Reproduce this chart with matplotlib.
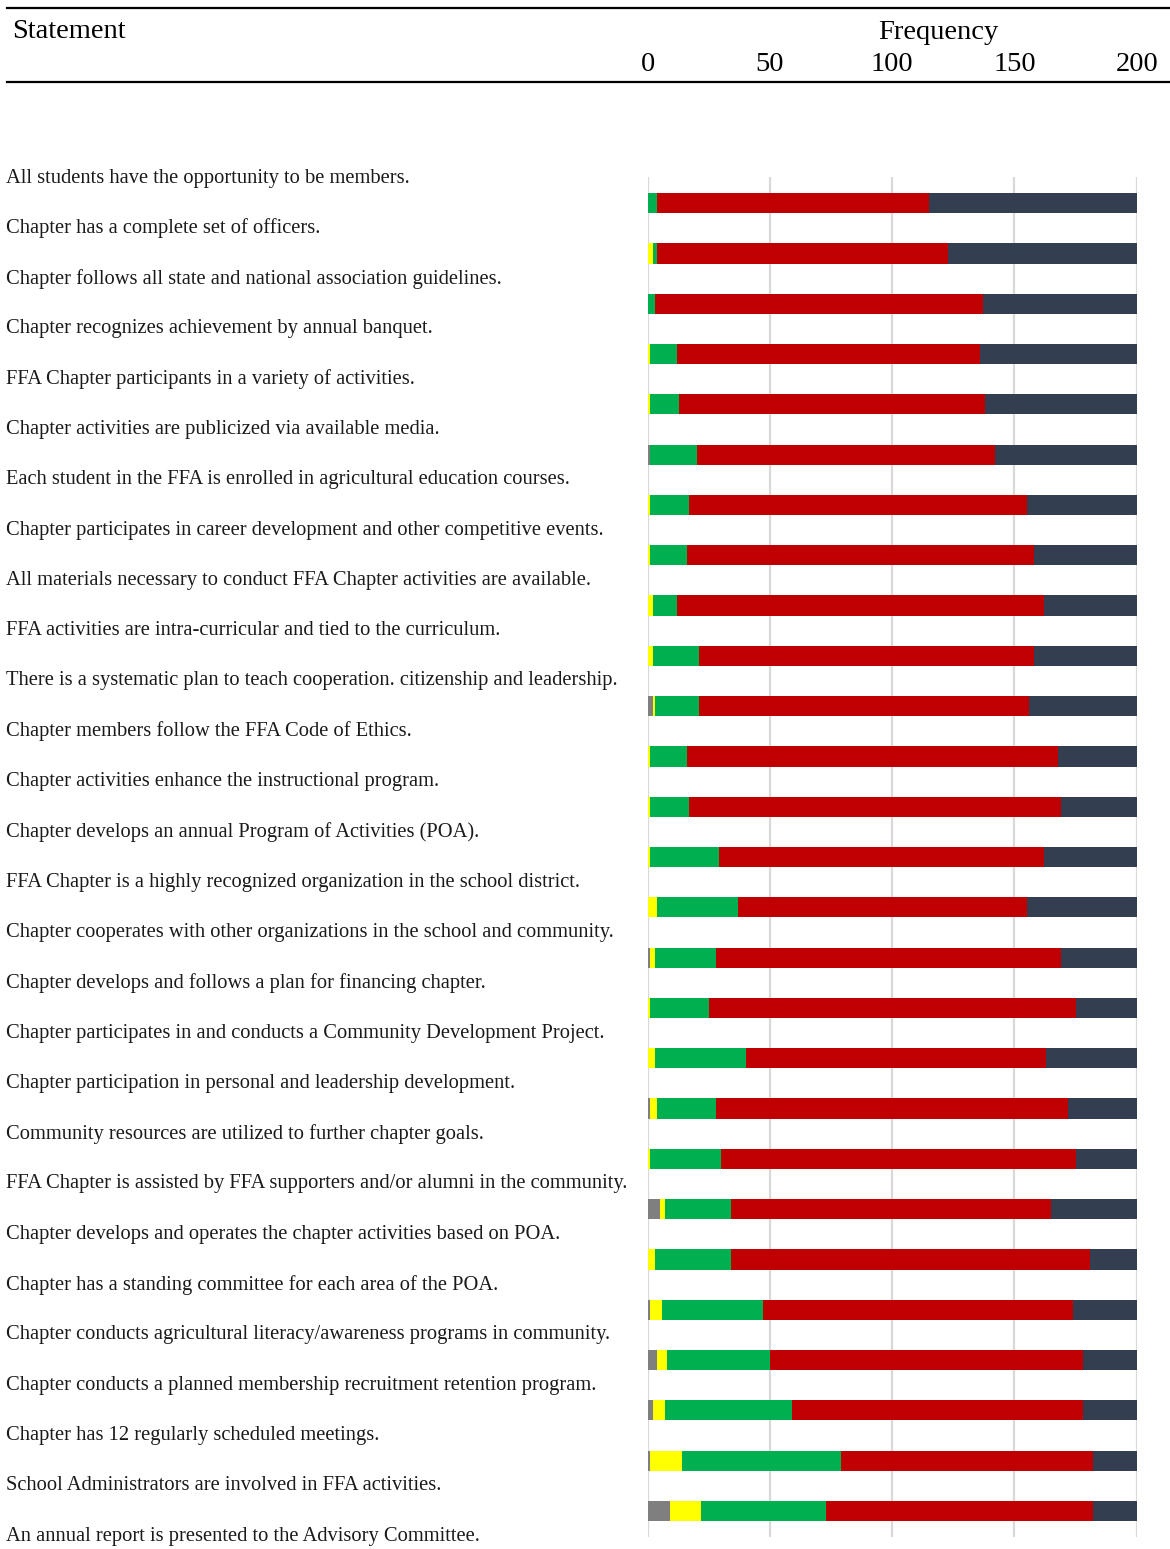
import matplotlib
matplotlib.use("Agg")
import matplotlib.pyplot as plt
import matplotlib.transforms as mtransforms
from matplotlib.lines import Line2D

# ---------------- data ----------------
statements = [
    "All students have the opportunity to be members.",
    "Chapter has a complete set of officers.",
    "Chapter follows all state and national association guidelines.",
    "Chapter recognizes achievement by annual banquet.",
    "FFA Chapter participants in a variety of activities.",
    "Chapter activities are publicized via available media.",
    "Each student in the FFA is enrolled in agricultural education courses.",
    "Chapter participates in career development and other competitive events.",
    "All materials necessary to conduct FFA Chapter activities are available.",
    "FFA activities are intra-curricular and tied to the curriculum.",
    "There is a systematic plan to teach cooperation. citizenship and leadership.",
    "Chapter members follow the FFA Code of Ethics.",
    "Chapter activities enhance the instructional program.",
    "Chapter develops an annual Program of Activities (POA).",
    "FFA Chapter is a highly recognized organization in the school district.",
    "Chapter cooperates with other organizations in the school and community.",
    "Chapter develops and follows a plan for financing chapter.",
    "Chapter participates in and conducts a Community Development Project.",
    "Chapter participation in personal and leadership development.",
    "Community resources are utilized to further chapter goals.",
    "FFA Chapter is assisted by FFA supporters and/or alumni in the community.",
    "Chapter develops and operates the chapter activities based on POA.",
    "Chapter has a standing committee for each area of the POA.",
    "Chapter conducts agricultural literacy/awareness programs in community.",
    "Chapter conducts a planned membership recruitment retention program.",
    "Chapter has 12 regularly scheduled meetings.",
    "School Administrators are involved in FFA activities.",
    "An annual report is presented to the Advisory Committee.",
]

freq_ticks = [0, 50, 100, 150, 200]

# stacked frequency series (27 visible bars)
series_gray = [0, 0, 0, 0, 0, 1, 0, 0, 0, 0, 2, 0, 0, 0, 0, 1, 0, 0, 1, 0, 5, 0, 1, 4, 2, 1, 9]
series_yellow = [0, 2, 0, 1, 1, 0, 1, 1, 2, 2, 1, 1, 1, 1, 4, 2, 1, 3, 3, 1, 2, 3, 5, 4, 5, 13, 13]
series_green = [4, 2, 3, 11, 12, 19, 16, 15, 10, 19, 18, 15, 16, 28, 33, 25, 24, 37, 24, 29, 27, 31, 41, 42, 52, 65, 51]
series_red = [111, 119, 134, 124, 125, 122, 138, 142, 150, 137, 135, 152, 152, 133, 118, 141, 150, 123, 144, 145, 131, 147, 127, 128, 119, 103, 109]
series_dark = [85, 77, 63, 64, 62, 58, 45, 42, 38, 42, 44, 32, 31, 38, 45, 31, 25, 37, 28, 25, 35, 19, 26, 22, 22, 18, 18]

# ---------------- style / layout ----------------
W, H = 1170, 1549
DPI = 100
colors = ["#7F7F7F", "#FFFF00", "#00B050", "#C00000", "#333F50"]
serif = ["Liberation Serif", "DejaVu Serif"]

fig = plt.figure(figsize=(W / DPI, H / DPI), dpi=DPI)
fig.patch.set_facecolor("white")

x0_px, x1_px = 647.7, 1136.7
ax_top_px = 160
first_row_px = 178
row_px = 50.3

ax = fig.add_axes([x0_px / W, 0, (x1_px - x0_px) / W, 1 - ax_top_px / H])
ax.set_xlim(0, 200)
ax.set_ylim((H - first_row_px) / row_px, -(first_row_px - ax_top_px) / row_px)
ax.axis("off")

n_bars = len(series_red)
bar_pos = [i + 0.5 for i in range(n_bars)]
ax.vlines(freq_ticks, -0.02, len(statements) - 1 + 0.02, color="#D9D9D9", lw=1.6, zorder=0)

left = [0] * n_bars
for vals, c in zip([series_gray, series_yellow, series_green, series_red, series_dark], colors):
    ax.barh(bar_pos, vals, left=left, height=0.4, color=c, edgecolor="none", zorder=2)
    left = [l + v for l, v in zip(left, vals)]

# statement labels
lab_tr = mtransforms.blended_transform_factory(fig.transFigure, ax.transData)
for i, s in enumerate(statements):
    ax.text(6 / W, i, s, transform=lab_tr, ha="left", va="center",
            fontsize=14.8, family=serif, color="#1a1a1a", clip_on=False)

# header
for ypx in (7.5, 81.5):
    fig.add_artist(Line2D([7 / W, 1.0], [1 - ypx / H, 1 - ypx / H],
                          transform=fig.transFigure, color="black", lw=1.6))
fig.text(12.5 / W, 1 - 38 / H, "Statement", ha="left", va="baseline",
         fontsize=20.5, family=serif)
fig.text(938 / W, 1 - 39 / H, "Frequency", ha="center", va="baseline",
         fontsize=20.5, family=serif)
tick_tr = mtransforms.blended_transform_factory(ax.transData, fig.transFigure)
for t in freq_ticks:
    ax.text(t, 1 - 71 / H, str(t), transform=tick_tr, ha="center", va="baseline",
            fontsize=20.5, family=serif, clip_on=False)

fig.savefig("out.png", dpi=DPI, facecolor="white")
